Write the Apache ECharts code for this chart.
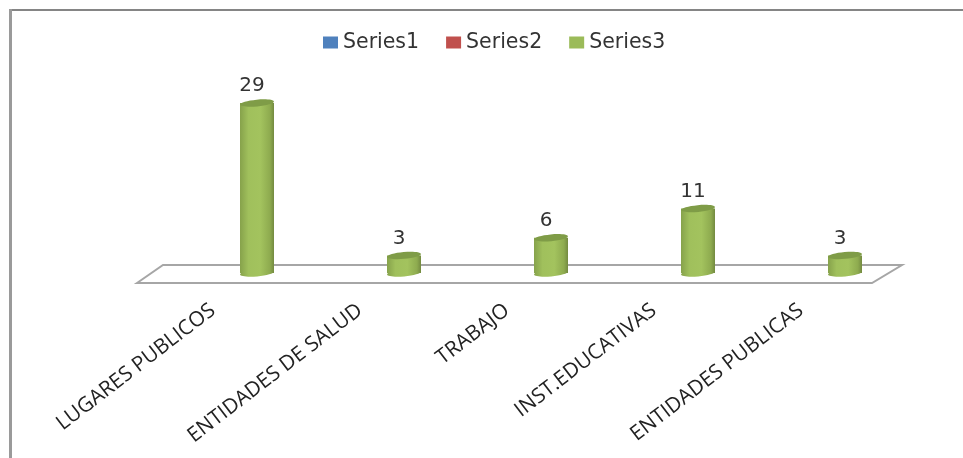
<!DOCTYPE html>
<html><head><meta charset="utf-8">
<style>html,body{margin:0;padding:0;background:#fff}#c{width:963px;height:458px}</style>
<script src="https://cdn.jsdelivr.net/npm/echarts@6/dist/echarts.min.js"></script>
</head><body><div id="c"></div>
<script>
const categories = ['LUGARES PUBLICOS','ENTIDADES DE SALUD','TRABAJO','INST.EDUCATIVAS','ENTIDADES PUBLICAS'];
const series1Values = [];
const series2Values = [];
const series3Values = [29,3,6,11,3];

const chart = echarts.init(document.getElementById('c'));
const sideGrad = new echarts.graphic.LinearGradient(0,0,1,0,[
  {offset:0,color:'#86a24b'},{offset:0.25,color:'#a0c05c'},{offset:0.6,color:'#a3c35e'},{offset:0.88,color:'#8eab4f'},{offset:1,color:'#738a40'}]);
function cylinder(params, api){
  const v = api.value(1);
  const top = api.coord([api.value(0), v]);
  const base = api.coord([api.value(0), 0]);
  const w = 17, ry = 3.4, rot = 0.09;
  const cx = base[0];
  return {type:'group', children:[
    {type:'rect', shape:{x:cx-w, y:top[1], width:2*w, height:base[1]-top[1]}, style:{fill:sideGrad}},
    {type:'ellipse', shape:{cx:cx, cy:base[1], rx:w, ry:ry}, rotation:rot, originX:cx, originY:base[1], style:{fill:sideGrad}},
    {type:'ellipse', shape:{cx:cx, cy:top[1], rx:w, ry:ry}, rotation:rot, originX:cx, originY:top[1], style:{fill:'#7f9c47'}},
    {type:'text', style:{text:String(v), x:cx-5, y:top[1]-7, align:'center', verticalAlign:'bottom', fill:'#333', font:'20px "DejaVu Sans"'}}
  ]};
}
chart.setOption({
  animation:false,
  backgroundColor:'#fff',
  legend:{top:27,left:318,itemWidth:15,itemHeight:12,itemGap:27,icon:'rect',
    textStyle:{fontFamily:'DejaVu Sans',fontSize:20.5,color:'#333'},
    data:['Series1','Series2','Series3']},
  grid:[
    {left:183.5,width:735,top:97.2,height:175.8},
    {left:139.5,width:735,top:97.2,height:175.8}
  ],
  xAxis:[
    {type:'category',gridIndex:0,data:categories,axisLine:{show:false},axisTick:{show:false},axisLabel:{show:false}},
    {type:'category',gridIndex:1,data:categories,axisLine:{show:false},axisTick:{show:false},
      axisLabel:{rotate:37.5,margin:35,interval:0,fontFamily:'Open Sans',fontSize:20.8,color:'#222'}}
  ],
  yAxis:[
    {type:'value',gridIndex:0,min:0,max:30,show:false},
    {type:'value',gridIndex:1,min:0,max:30,show:false}
  ],
  graphic:[
    {type:'line',z:0,shape:{x1:10,y1:10,x2:963,y2:10},style:{stroke:'#858585',lineWidth:2}},
    {type:'line',z:0,shape:{x1:10.5,y1:9,x2:10.5,y2:458},style:{stroke:'#9a9a9a',lineWidth:3}},
    {type:'polygon',z:0,shape:{points:[[137,283],[163,265],[902,265],[872,283]]},style:{fill:'#fff',stroke:'#a6a6a6',lineWidth:2}}
  ],
  series:[
    {name:'Series1',type:'bar',xAxisIndex:0,yAxisIndex:0,data:series1Values,itemStyle:{color:'#4F81BD'}},
    {name:'Series2',type:'bar',xAxisIndex:0,yAxisIndex:0,data:series2Values,itemStyle:{color:'#C0504D'}},
    {name:'Series3',type:'custom',xAxisIndex:0,yAxisIndex:0,itemStyle:{color:'#9BBB59'},
      encode:{x:0,y:1},renderItem:cylinder,data:series3Values.map((v,i)=>[i,v])}
  ]
});
</script></body></html>
